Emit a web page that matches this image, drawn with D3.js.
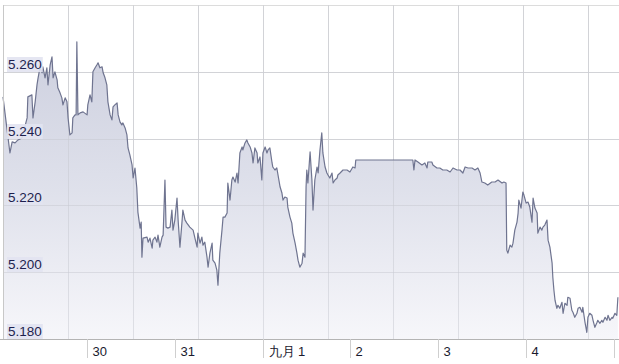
<!DOCTYPE html>
<html>
<head>
<meta charset="utf-8">
<script src="https://cdn.jsdelivr.net/npm/d3@7"></script>
<style>
html,body{margin:0;padding:0;background:#fff;}
svg{display:block;}
text{font-family:"Liberation Sans",Arial,sans-serif;}
</style>
</head>
<body>
<svg id="chart" width="619" height="364"></svg>
<script>
// hours since 29 Aug 00:00
const hours = [1.0,2.9,3.5,4.3,5.1,6.2,7.6,7.8,8.9,9.2,9.8,10.3,10.6,11.1,11.7,11.9,12.5,13.0,13.3,13.9,14.4,14.7,15.2,15.8,16.0,16.6,17.1,17.4,18.0,18.5,18.8,19.3,19.9,20.1,20.7,21.0,21.2,21.5,22.1,22.9,24.0,24.2,24.8,25.3,25.6,26.2,26.7,27.0,27.5,28.1,28.4,28.9,29.4,29.7,30.3,30.8,31.1,31.6,32.2,32.5,33.0,33.5,33.8,34.4,34.9,35.2,35.7,36.3,36.6,37.1,37.6,37.9,38.5,38.8,39.0,39.3,40.4,40.7,41.2,41.8,42.0,42.6,43.1,43.4,43.9,44.5,44.8,45.3,45.6,46.1,46.7,47.2,47.5,48.0,48.6,48.9,49.4,50.0,50.2,50.8,51.3,52.1,53.0,53.5,54.1,54.3,54.9,55.4,55.7,56.2,56.8,57.1,57.6,58.2,58.4,59.0,59.5,59.8,60.3,60.9,61.2,61.7,62.3,62.5,63.1,63.6,63.9,64.5,65.0,65.3,65.8,66.4,66.6,67.2,67.7,68.0,68.6,69.1,69.4,69.9,70.5,70.7,71.3,71.8,72.1,72.7,73.2,73.5,74.0,74.6,74.8,75.4,75.9,76.8,77.3,77.6,78.1,78.7,78.9,79.5,80.0,80.3,80.9,81.4,81.7,82.2,82.8,83.1,83.6,83.9,84.1,84.4,85.0,85.5,85.8,86.3,86.9,87.2,87.7,88.2,88.5,89.1,89.6,89.9,90.4,91.0,91.3,91.8,92.4,92.6,93.2,94.0,95.1,95.9,96.7,97.3,97.5,113.1,113.4,113.7,114.5,115.6,116.4,117.0,117.2,118.3,118.6,119.7,120.5,121.3,122.4,123.3,124.1,125.2,126.0,126.8,127.4,128.2,129.3,130.1,130.9,131.5,132.0,132.8,133.6,134.7,135.6,136.4,137.5,138.0,138.6,138.8,139.1,139.7,140.2,140.5,141.0,141.6,141.9,142.1,142.7,143.2,143.5,144.1,144.6,145.1,145.7,146.0,146.5,147.1,147.3,147.9,148.4,148.7,149.2,149.8,150.1,150.6,151.2,151.4,151.7,152.0,152.5,152.8,153.3,153.9,154.2,154.7,155.3,155.5,156.1,156.6,156.9,157.4,158.0,158.3,158.8,159.4,159.6,160.2,160.7,161.0,161.5,162.1,162.4,162.9,163.5,163.7,164.3,164.8,165.1,165.7,166.2,166.5,167.0,167.6,167.8,168.4,168.9,169.2];
const rates = [5.2525,5.2357,5.2390,5.2387,5.2396,5.2402,5.2462,5.2525,5.2531,5.2462,5.2510,5.2561,5.2582,5.2612,5.2597,5.2615,5.2582,5.2612,5.2561,5.2621,5.2645,5.2582,5.2600,5.2576,5.2552,5.2537,5.2522,5.2501,5.2522,5.2510,5.2462,5.2411,5.2417,5.2462,5.2471,5.2471,5.2690,5.2471,5.2477,5.2480,5.2471,5.2501,5.2531,5.2510,5.2600,5.2612,5.2621,5.2627,5.2612,5.2615,5.2597,5.2582,5.2561,5.2510,5.2471,5.2456,5.2495,5.2501,5.2507,5.2471,5.2450,5.2441,5.2447,5.2432,5.2411,5.2372,5.2351,5.2321,5.2282,5.2312,5.2252,5.2180,5.2132,5.2150,5.2045,5.2102,5.2105,5.2090,5.2102,5.2072,5.2096,5.2105,5.2090,5.2111,5.2075,5.2105,5.2111,5.2276,5.2135,5.2132,5.2135,5.2186,5.2126,5.2156,5.2222,5.2156,5.2075,5.2156,5.2186,5.2156,5.2147,5.2135,5.2126,5.2102,5.2075,5.2117,5.2087,5.2105,5.2081,5.2090,5.2045,5.2015,5.2057,5.2087,5.2036,5.2027,5.2006,5.1961,5.2057,5.2126,5.2165,5.2165,5.2177,5.2267,5.2216,5.2276,5.2285,5.2270,5.2297,5.2267,5.2357,5.2375,5.2366,5.2387,5.2396,5.2387,5.2375,5.2357,5.2327,5.2372,5.2357,5.2327,5.2345,5.2276,5.2357,5.2375,5.2357,5.2366,5.2372,5.2327,5.2315,5.2306,5.2312,5.2255,5.2237,5.2216,5.2225,5.2222,5.2195,5.2165,5.2147,5.2117,5.2087,5.2057,5.2036,5.2015,5.2027,5.2057,5.2045,5.2255,5.2306,5.2267,5.2360,5.2276,5.2186,5.2276,5.2315,5.2297,5.2366,5.2417,5.2357,5.2315,5.2297,5.2291,5.2282,5.2297,5.2267,5.2276,5.2282,5.2291,5.2297,5.2306,5.2306,5.2300,5.2315,5.2312,5.2336,5.2336,5.2306,5.2336,5.2330,5.2321,5.2327,5.2312,5.2330,5.2330,5.2321,5.2312,5.2312,5.2306,5.2306,5.2300,5.2312,5.2306,5.2306,5.2297,5.2315,5.2312,5.2312,5.2306,5.2312,5.2297,5.2270,5.2267,5.2261,5.2270,5.2270,5.2276,5.2267,5.2270,5.2267,5.2066,5.2057,5.2081,5.2075,5.2087,5.2126,5.2150,5.2177,5.2216,5.2192,5.2240,5.2231,5.2207,5.2210,5.2195,5.2150,5.2222,5.2192,5.2177,5.2117,5.2135,5.2126,5.2135,5.2141,5.2156,5.2096,5.2075,5.2027,5.1985,5.1946,5.1916,5.1892,5.1901,5.1892,5.1910,5.1877,5.1907,5.1901,5.1925,5.1922,5.1886,5.1880,5.1865,5.1877,5.1892,5.1895,5.1880,5.1895,5.1850,5.1820,5.1865,5.1877,5.1871,5.1856,5.1835,5.1850,5.1856,5.1847,5.1856,5.1850,5.1865,5.1856,5.1871,5.1856,5.1865,5.1862,5.1877,5.1871,5.1925];

const yTickValues = [5.18, 5.20, 5.22, 5.24, 5.26];
const yTickLabels = ["5.180", "5.200", "5.220", "5.240", "5.260"];
const xTickDates = ["2023-08-30","2023-08-31","2023-09-01","2023-09-02","2023-09-03","2023-09-04","2023-09-05"];
const xTickLabels = ["30", "31", "九月 1", "2", "3", "4", ""];

(function () {
const base = new Date(2023, 7, 29, 0, 0);
const toDate = h => new Date(base.getTime() + h * 3600e3);
const data = hours.map((h, i) => ({ t: toDate(h), v: rates[i] }));
const tickDates = xTickDates.map(s => { const p = s.split("-"); return new Date(+p[0], +p[1]-1, +p[2]); });

const W = 619;
const pL = 3, pR = 619, pT = 5, pB = 339;

const x = d3.scaleTime().domain([toDate(1.0), toDate(169.5)]).range([pL, pR]);
const y = d3.scaleLinear().domain([5.18, 5.28]).range([pB, pT]);

const svg = d3.select("#chart");
const defs = svg.append("defs");
const grad = defs.append("linearGradient").attr("id", "fillGrad")
  .attr("gradientUnits", "userSpaceOnUse").attr("x1", 0).attr("x2", 0).attr("y1", pT).attr("y2", pB);
grad.append("stop").attr("offset", "0%").attr("stop-color", "#c6c9da");
grad.append("stop").attr("offset", "55%").attr("stop-color", "#dddfea");
grad.append("stop").attr("offset", "100%").attr("stop-color", "#f6f6fa");

const vGrid = d3.range(pL, pR, 65);

const grid = svg.append("g");
grid.selectAll("line.h").data(yTickValues.concat([5.28])).join("line")
  .attr("x1", pL).attr("x2", pR)
  .attr("y1", d => Math.round(y(d)) + 0.5).attr("y2", d => Math.round(y(d)) + 0.5)
  .attr("stroke", "#dcdcdc").attr("stroke-width", 1);
grid.selectAll("line.v").data(vGrid).join("line")
  .attr("x1", d => d + 0.5).attr("x2", d => d + 0.5)
  .attr("y1", pT).attr("y2", pB)
  .attr("stroke", "#dcdcdc").attr("stroke-width", 1);

const area = d3.area().x(d => x(d.t)).y0(pB).y1(d => y(d.v));
const line = d3.line().x(d => x(d.t)).y(d => y(d.v));
svg.append("path").datum(data).attr("d", area).attr("fill", "url(#fillGrad)").attr("opacity", 0.95);

const grid2 = svg.append("g");
grid2.selectAll("line.v").data(vGrid).join("line")
  .attr("x1", d => d + 0.5).attr("x2", d => d + 0.5)
  .attr("y1", pT).attr("y2", pB)
  .attr("stroke", "#c8c9d2").attr("stroke-opacity", 0.5).attr("stroke-width", 1);
grid2.selectAll("line.h").data(yTickValues).join("line")
  .attr("x1", pL).attr("x2", pR)
  .attr("y1", d => Math.round(y(d)) + 0.5).attr("y2", d => Math.round(y(d)) + 0.5)
  .attr("stroke", "#c8c9d2").attr("stroke-opacity", 0.5).attr("stroke-width", 1);

svg.append("path").datum(data).attr("d", line)
  .attr("fill", "none").attr("stroke", "#6f7490").attr("stroke-width", 1.2)
  .attr("stroke-linejoin", "round");

svg.append("line").attr("x1", pL + 0.5).attr("x2", pL + 0.5).attr("y1", pT).attr("y2", pB)
  .attr("stroke", "#c8c8c8");
svg.append("line").attr("x1", 0).attr("x2", W).attr("y1", pB + 0.5).attr("y2", pB + 0.5)
  .attr("stroke", "#b4b4b4");

const yl = svg.append("g");
yTickValues.forEach((v, i) => {
  const yy = Math.round(y(v));
  const g = yl.append("g");
  const t = g.append("text").attr("x", 8).attr("y", yy - 3)
    .attr("font-size", 13.5).attr("fill", "#1d1f4e").text(yTickLabels[i]);
  const bb = t.node().getBBox();
  g.insert("rect", "text").attr("x", bb.x - 1).attr("y", yy - 15)
    .attr("width", bb.width + 2).attr("height", 15)
    .attr("fill", "#e2e3f1").attr("opacity", 0.9);
});

const xa = svg.append("g");
tickDates.forEach((d, i) => {
  const xx = Math.round(x(d)) + 0.5;
  xa.append("line").attr("x1", xx).attr("x2", xx).attr("y1", pB).attr("y2", 358)
    .attr("stroke", "#cfcfcf");
  xa.append("text").attr("x", xx + 5).attr("y", 356)
    .attr("font-size", 13).attr("fill", "#1a1a2e").text(xTickLabels[i]);
});
})();
</script>
</body>
</html>
